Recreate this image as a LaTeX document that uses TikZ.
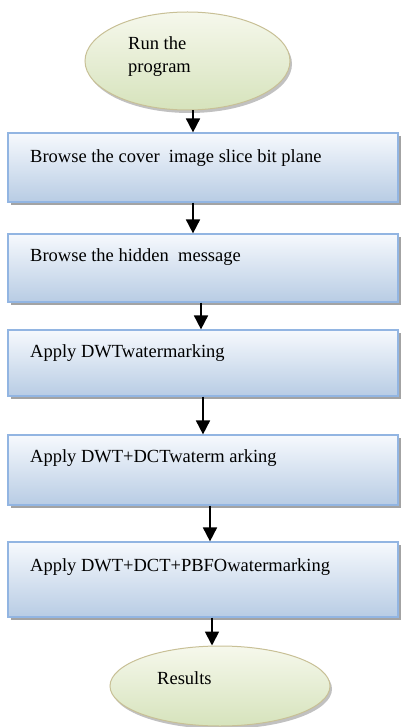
\documentclass[tikz,border=0pt]{standalone}
\usepackage{fontspec}
\setmainfont{Liberation Serif}
\usetikzlibrary{shapes.geometric,shadows,arrows.meta}
\definecolor{boxtop}{RGB}{246,249,253}
\definecolor{boxbot}{RGB}{184,204,228}
\definecolor{boxedge}{RGB}{146,181,226}
\definecolor{elltop}{RGB}{246,248,236}
\definecolor{ellbot}{RGB}{214,227,188}
\definecolor{elledge}{RGB}{200,192,150}
\begin{document}
\begin{tikzpicture}[x=1pt,y=-1pt,
  stepbox/.style={draw=boxedge, line width=1.2pt, rectangle, inner sep=0pt,
    minimum width=390pt, top color=boxtop, bottom color=boxbot,
    drop shadow={shadow xshift=3pt, shadow yshift=-3pt, fill=black!45, opacity=0.8}},
  term/.style={draw=elledge, line width=1pt, ellipse, inner sep=0pt,
    top color=elltop, bottom color=ellbot,
    drop shadow={shadow xshift=2pt, shadow yshift=-3pt, fill=black!35, opacity=0.7}},
  lbl/.style={anchor=west, inner sep=0pt, font=\fontsize{18.5}{23}\selectfont, align=left},
  arr/.style={line width=1.8pt, -{Triangle[width=14pt,length=14pt]}}]
\useasboundingbox (0,0) rectangle (404,727);

\node[term, minimum width=205pt, minimum height=98pt] (run) at (187.5,61) {};
\node[lbl] (runtxt) at (128,57) {Run the\\program};

\node[stepbox, minimum height=69pt] (b1) at (203,167.5) {};
\node[lbl] (t1) at (30,158) {Browse the cover\ \ image slice\ bit plane};

\node[stepbox, minimum height=68pt] (b2) at (203,268) {};
\node[lbl] (t2) at (30,257) {Browse the hidden\ \ message};

\node[stepbox, minimum height=66pt] (b3) at (203,363) {};
\node[lbl] (t3) at (30,353) {Apply DWTwatermarking};

\node[stepbox, minimum height=70pt] (b4) at (203,470) {};
\node[lbl] (t4) at (30,458) {Apply DWT+DCTwaterm arking};

\node[stepbox, minimum height=75pt] (b5) at (203,579.5) {};
\node[lbl] (t5) at (30,567) {Apply DWT+DCT+PBFOwatermarking};

\node[term, minimum width=220pt, minimum height=80pt] (res) at (220,686) {};
\node[lbl] (restxt) at (157,678) {Results};

\draw[arr] (run.south -| 193,0) -- (b1.north -| 193,0);
\draw[arr] (b1.south -| 193,0) -- (b2.north -| 193,0);
\draw[arr] (b2.south -| 201,0) -- (b3.north -| 201,0);
\draw[arr] (b3.south -| 203,0) -- (b4.north -| 203,0);
\draw[arr] (b4.south -| 210,0) -- (b5.north -| 210,0);
\draw[arr] (b5.south -| 212,0) -- (res.north -| 212,0);
\end{tikzpicture}
\end{document}
